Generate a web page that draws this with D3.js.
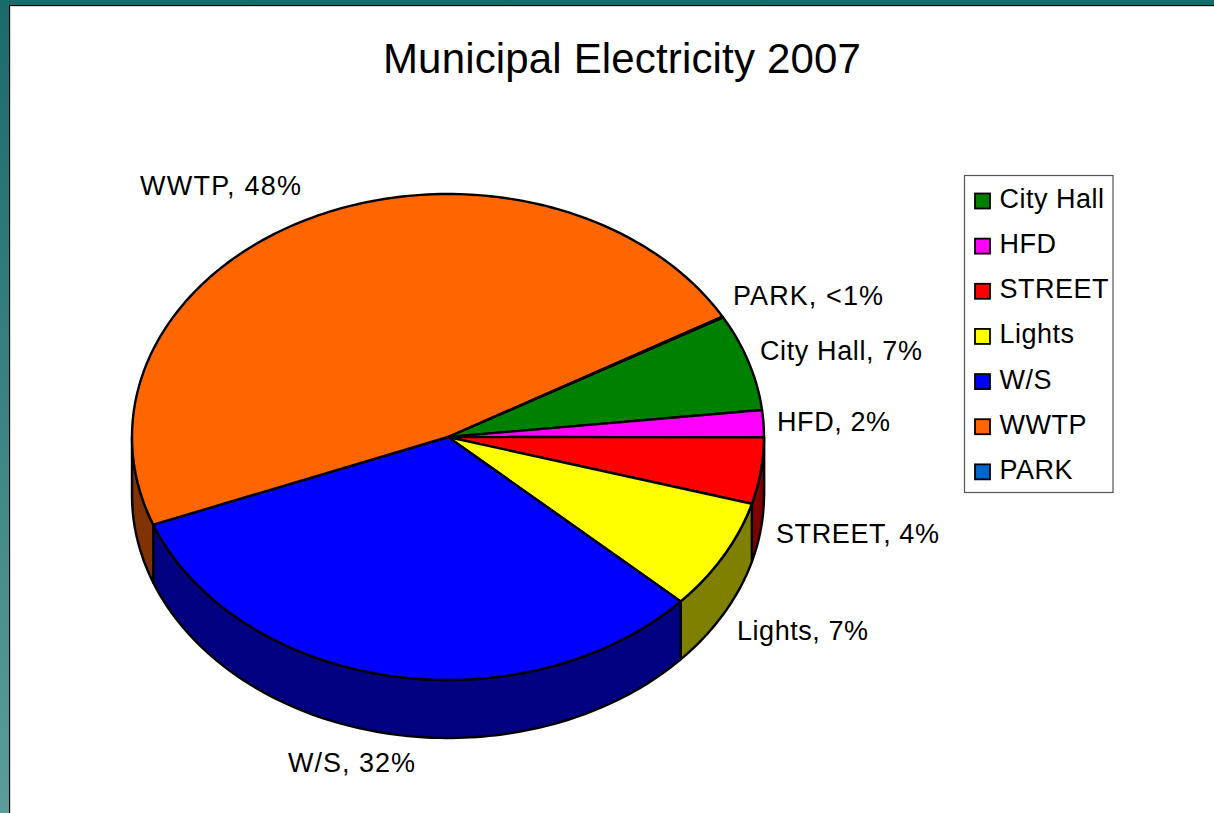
<!DOCTYPE html>
<html>
<head>
<meta charset="utf-8">
<script src="https://cdn.jsdelivr.net/npm/d3@7"></script>
<style>
  html, body { margin: 0; padding: 0; background: #fff; overflow: hidden; }
  text { font-family: "Liberation Sans", Arial, sans-serif; fill: #000; }
</style>
</head>
<body>
<svg id="canvas" width="1214" height="813"></svg>
<script>
let categories = ['City Hall', 'HFD', 'STREET', 'Lights', 'W/S', 'WWTP', 'PARK']
let shares = [6.42, 1.8, 4.4, 7.4, 32.3, 47.63, 0.05]
let shareLabels = ['7%', '2%', '4%', '7%', '32%', '48%', '<1%']
let topColors = ['#008000', '#ff00ff', '#ff0000', '#ffff00', '#0000ff', '#ff6600', '#0066cc']
let wallColors = ['#004000', '#800080', '#800000', '#808000', '#000080', '#803300', '#003366']

let canvas = d3.select('#canvas')
let width = 1214, height = 813

// ---- page background
let defs = canvas.append('defs')
let grad = defs.append('linearGradient').attr('id', 'bg')
  .attr('gradientUnits', 'userSpaceOnUse')
  .attr('x1', 0).attr('y1', 0).attr('x2', 0).attr('y2', height)
grad.append('stop').attr('offset', 0).attr('stop-color', '#1a6a6c')
grad.append('stop').attr('offset', 1).attr('stop-color', '#5c9d9a')

canvas.append('rect').attr('width', width).attr('height', height).attr('fill', 'url(#bg)')
canvas.append('rect').attr('x', 9).attr('y', 5).attr('width', width - 9).attr('height', height - 5).attr('fill', '#000')
canvas.append('rect').attr('x', 10).attr('y', 6).attr('width', width - 10).attr('height', height - 6).attr('fill', '#d8d8d8')
canvas.append('rect').attr('x', 11).attr('y', 7).attr('width', width - 11).attr('height', height - 7).attr('fill', '#fff')

canvas.append('text').attr('x', 622).attr('y', 73)
  .attr('text-anchor', 'middle').attr('font-size', 42).attr('letter-spacing', 0.16)
  .text('Municipal Electricity 2007')

// ---- pie, tilted: unit circle mapped on an ellipse
let cx = 448, cy = 437, rx = 316, ry = 243, depth = 58
let xPos = d3.scaleLinear().domain([-1, 1]).range([cx - rx, cx + rx])
let yPos = d3.scaleLinear().domain([-1, 1]).range([cy - ry, cy + ry])

let start = 60.5 * Math.PI / 180
let pie = d3.pie().sort(null).startAngle(start).endAngle(start + 2 * Math.PI)
let slices = pie(shares)

let rim = (a) => [xPos(Math.sin(a)), yPos(-Math.cos(a))]
let sample = (a0, a1) => {
  let n = Math.max(2, Math.ceil((a1 - a0) / 0.02))
  return d3.range(n + 1).map(i => a0 + (a1 - a0) * i / n)
}
let line = d3.line()

// side walls, only the part of the rim that faces the viewer (90deg..270deg)
let wallPath = (s) => {
  let a0 = Math.max(s.startAngle, Math.PI / 2)
  let a1 = Math.min(s.endAngle, 3 * Math.PI / 2)
  if (a1 <= a0) return null
  let pts = sample(a0, a1).map(rim)
  let under = pts.map(p => [p[0], p[1] + depth]).reverse()
  return line(pts.concat(under)) + 'Z'
}

canvas.append('g').selectAll('path')
  .data(slices.filter(s => wallPath(s)))
  .enter()
  .append('path')
  .attr('d', wallPath)
  .attr('fill', s => wallColors[s.index])
  .attr('stroke', '#000')
  .attr('stroke-width', 2.4)
  .attr('stroke-linejoin', 'round')

canvas.append('g').selectAll('path')
  .data(slices)
  .enter()
  .append('path')
  .attr('d', s => line([[cx, cy]].concat(sample(s.startAngle, s.endAngle).map(rim))) + 'Z')
  .attr('fill', s => topColors[s.index])
  .attr('stroke', '#000')
  .attr('stroke-width', 2.4)
  .attr('stroke-linejoin', 'round')

// ---- data labels, stretched a little to the widths in the original
let labelSpots = [[760, 360], [777, 431], [776, 543], [737, 640], [288, 772], [140, 195], [733, 305]]
let labelWidths = [162, 113, 163, 131, 127, 161, 150]
canvas.append('g').selectAll('text')
  .data(categories)
  .enter()
  .append('text')
  .attr('x', (d, i) => labelSpots[i][0])
  .attr('y', (d, i) => labelSpots[i][1])
  .attr('font-size', 27)
  .attr('textLength', (d, i) => labelWidths[i])
  .text((d, i) => d + ', ' + shareLabels[i])

// ---- legend
canvas.append('rect').attr('x', 964.5).attr('y', 175.5).attr('width', 148.5).attr('height', 317)
  .attr('fill', '#fff').attr('stroke', '#555').attr('stroke-width', 1.2)

let legendY = d3.scaleBand().domain(categories).range([178, 494])
let legend = canvas.append('g').selectAll('g')
  .data(categories)
  .enter()
  .append('g')
  .attr('transform', d => 'translate(0,' + legendY(d) + ')')
legend.append('rect').attr('x', 975).attr('y', 15.5).attr('width', 15).attr('height', 15)
  .attr('fill', (d, i) => topColors[i]).attr('stroke', '#000').attr('stroke-width', 1.8)
legend.append('text').attr('x', 999.5).attr('y', 30).attr('font-size', 27)
  .attr('letter-spacing', 0.5).text(d => d)
</script>
</body>
</html>
